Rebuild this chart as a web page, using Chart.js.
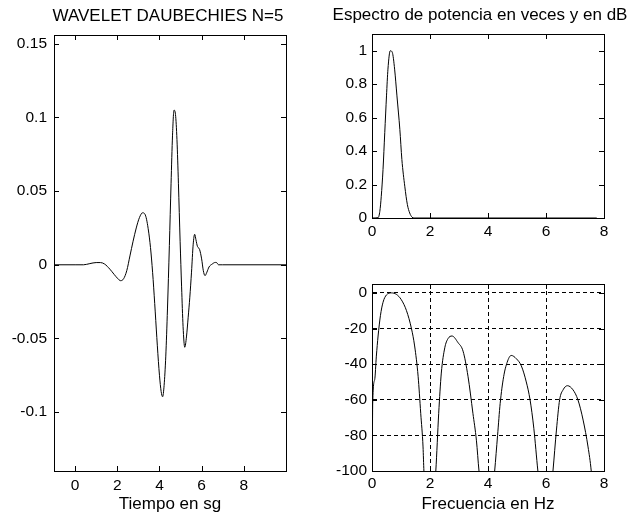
<!DOCTYPE html>
<html>
<head>
<meta charset="utf-8">
<script src="https://cdn.jsdelivr.net/npm/chart.js@4.4.0/dist/chart.umd.min.js"></script>
<style>
  html, body { margin: 0; padding: 0; background: #fff; overflow: hidden; }
  canvas { position: absolute; }
</style>
</head>
<body>
<canvas id="wavelet" width="336" height="517" style="left:0;top:0"></canvas>
<canvas id="power" width="310" height="250" style="left:325px;top:0"></canvas>
<canvas id="decibel" width="310" height="267" style="left:325px;top:250px"></canvas>
<script>
// Daubechies N=5 wavelet (time in s)
const waveTime = [-1, 0, 0.4, 0.7, 1.0, 1.2, 1.4, 1.65, 1.85, 2.0, 2.16, 2.3, 2.45, 2.6, 2.75, 2.9,
  3.05, 3.2, 3.35, 3.5, 3.6, 3.7, 3.8, 3.9, 4.0, 4.08, 4.15, 4.22, 4.3, 4.38, 4.47, 4.55, 4.62,
  4.69, 4.76, 4.83, 4.9, 4.98, 5.05, 5.12, 5.2, 5.28, 5.36, 5.44, 5.52, 5.6, 5.67, 5.73, 5.8,
  5.9, 6.0, 6.08, 6.16, 6.25, 6.35, 6.5, 6.65, 6.72, 6.8, 7, 10];
const waveAmp = [0, 0, 0, 0.0008, 0.0015, 0.0015, 0.0005, -0.003, -0.0065, -0.009, -0.0108, -0.0095,
  -0.004, 0.006, 0.016, 0.025, 0.032, 0.0353, 0.033, 0.021, 0.008, -0.01, -0.032, -0.055, -0.075,
  -0.086, -0.0896, -0.082, -0.062, -0.03, 0.013, 0.055, 0.088, 0.105, 0.102, 0.085, 0.055, 0.016,
  -0.015, -0.042, -0.056, -0.049, -0.036, -0.022, -0.005, 0.014, 0.0207, 0.017, 0.0125, 0.0105,
  0.004, -0.004, -0.0074, -0.005, -0.0015, 0.0005, 0.0016, 0.0014, 0, 0, 0];

// power spectrum, linear
const powFreq = [0, 0.21, 0.27, 0.32, 0.38, 0.44, 0.5, 0.55, 0.63, 0.7, 0.78, 0.86, 0.96, 1.03,
  1.13, 1.22, 1.3, 1.38, 1.45, 7.75];
const powValue = [0, 0.002, 0.04, 0.13, 0.29, 0.51, 0.73, 0.89, 1.0, 0.99, 0.89, 0.73, 0.53, 0.35,
  0.19, 0.08, 0.03, 0.005, 0, 0];

// power spectrum in dB (nulls fall below the axis)
const dbFreq = [0, 0.024, 0.093, 0.15, 0.21, 0.29, 0.38, 0.5, 0.67, 0.84, 1.01, 1.19, 1.36, 1.47,
  1.59, 1.68, 1.76, 1.79, 2.0,
  2.2, 2.3, 2.39, 2.51, 2.62, 2.76, 2.97, 3.14, 3.31, 3.48, 3.6, 3.69, 4.0,
  4.23, 4.33, 4.42, 4.54, 4.66, 4.8, 4.98, 5.15, 5.32, 5.45, 5.58, 5.72, 6.0,
  6.24, 6.36, 6.47, 6.59, 6.74, 6.93, 7.1, 7.28, 7.45, 7.56, 7.75];
const dbValue = [-140, -62, -48.7, -35.5, -24.2, -12.8, -5.3, -1.1, 0, -0.8, -3.8, -10, -20, -29.8,
  -46.8, -67.6, -86.5, -100, -140,
  -100, -67.6, -45, -30.8, -25.7, -24.2, -28, -32.7, -46.8, -67.6, -82.7, -100, -140,
  -100, -80, -62, -47, -39, -35.1, -37, -41, -50, -60, -76, -100, -140,
  -100, -77, -60, -54.4, -52.1, -54.4, -60, -71.4, -86.5, -100, -140];

const timeTicks = [0, 2, 4, 6, 8];
const waveTicks = [-0.1, -0.05, 0, 0.05, 0.1, 0.15];
const freqTicks = [0, 2, 4, 6, 8];
const powTicks = [0, 0.2, 0.4, 0.6, 0.8, 1];
const dbTicks = [-100, -80, -60, -40, -20, 0];

const TICK = 5;

Chart.defaults.font.family = "'Liberation Sans', Arial, sans-serif";
Chart.defaults.color = '#000';
Chart.defaults.animation = false;
Chart.defaults.plugins.legend.display = false;
Chart.defaults.plugins.tooltip.enabled = false;

// tick marks pointing into the plot box, on every side
const innerTicks = {
  id: 'innerTicks',
  afterDraw(chart) {
    const ctx = chart.ctx;
    const a = chart.chartArea;
    const left = Math.round(a.left), right = Math.round(a.right);
    const top = Math.round(a.top), bottom = Math.round(a.bottom);
    ctx.save();
    ctx.strokeStyle = '#000';
    ctx.lineWidth = 1;
    ctx.beginPath();
    Object.values(chart.scales).forEach(scale => {
      scale.ticks.forEach(t => {
        const p = Math.round(scale.getPixelForValue(t.value)) + 0.5;
        if (scale.position === 'bottom') { ctx.moveTo(p, bottom); ctx.lineTo(p, bottom - TICK); }
        if (scale.position === 'top') { ctx.moveTo(p, top); ctx.lineTo(p, top + TICK); }
        if (scale.position === 'left') { ctx.moveTo(left, p); ctx.lineTo(left + TICK, p); }
        if (scale.position === 'right') { ctx.moveTo(right, p); ctx.lineTo(right - TICK, p); }
      });
    });
    ctx.stroke();
    ctx.restore();
  }
};

const toPoints = (xs, ys) => xs.map((x, i) => ({ x: x, y: ys[i] }));

function fixedSize(size) {
  return scale => {
    if (scale.isHorizontal()) scale.height = size;
    else scale.width = size;
  };
}

function axis(position, min, max, values, size, opts) {
  opts = opts || {};
  return {
    type: 'linear',
    position: position,
    min: min,
    max: max,
    afterBuildTicks: scale => { scale.ticks = values.map(v => ({ value: v })); },
    afterFit: fixedSize(size),
    grid: {
      color: '#000',
      drawOnChartArea: !!opts.grid,
      drawTicks: false
    },
    border: { color: '#000', dash: opts.grid ? [4, 3] : [] },
    ticks: opts.pad === undefined ? { display: false } : {
      padding: opts.pad,
      font: { size: 15.5 },
      maxRotation: 0,
      autoSkip: false,
      callback: v => String(v)
    },
    title: opts.title ? {
      display: true,
      text: opts.title,
      font: { size: 17 },
      padding: { top: 0, bottom: 2 }
    } : { display: false }
  };
}

function plotTitle(text, top) {
  return {
    display: true,
    text: text,
    font: { size: 17, weight: 'normal' },
    padding: { top: top, bottom: 0 }
  };
}

function line(points) {
  return {
    data: points,
    borderColor: '#000',
    borderWidth: 1,
    pointRadius: 0,
    fill: false,
    cubicInterpolationMode: 'monotone'
  };
}

const common = { responsive: false, devicePixelRatio: 1, layout: { padding: 0 } };

new Chart(document.getElementById('wavelet'), {
  type: 'line',
  data: { datasets: [line(toPoints(waveTime, waveAmp))] },
  options: Object.assign({}, common, {
    plugins: { title: plotTitle('WAVELET DAUBECHIES N=5', 6) },
    scales: {
      x: axis('bottom', -1, 10, timeTicks, 46, { pad: 5, title: 'Tiempo en sg' }),
      x2: axis('top', -1, 10, timeTicks, 8.6),
      y: axis('left', -0.14, 0.156, waveTicks, 54, { pad: 7 }),
      y2: axis('right', -0.14, 0.156, waveTicks, 50)
    }
  }),
  plugins: [innerTicks]
});

new Chart(document.getElementById('power'), {
  type: 'line',
  data: { datasets: [line(toPoints(powFreq, powValue))] },
  options: Object.assign({}, common, {
    plugins: { title: plotTitle('Espectro de potencia en veces y en dB', 5) },
    scales: {
      x: axis('bottom', 0, 8, freqTicks, 32, { pad: 4 }),
      x2: axis('top', 0, 8, freqTicks, 8.6),
      y: axis('left', 0, 1.1, powTicks, 47, { pad: 5 }),
      y2: axis('right', 0, 1.1, powTicks, 31)
    }
  }),
  plugins: [innerTicks]
});

new Chart(document.getElementById('decibel'), {
  type: 'line',
  data: { datasets: [line(toPoints(dbFreq, dbValue))] },
  options: Object.assign({}, common, {
    scales: {
      x: axis('bottom', 0, 8, freqTicks, 46, { pad: 3, grid: true, title: 'Frecuencia en Hz' }),
      x2: axis('top', 0, 8, freqTicks, 34),
      y: axis('left', -100, 5, dbTicks, 47, { pad: 5, grid: true }),
      y2: axis('right', -100, 5, dbTicks, 31)
    }
  }),
  plugins: [innerTicks]
});
</script>
</body>
</html>
